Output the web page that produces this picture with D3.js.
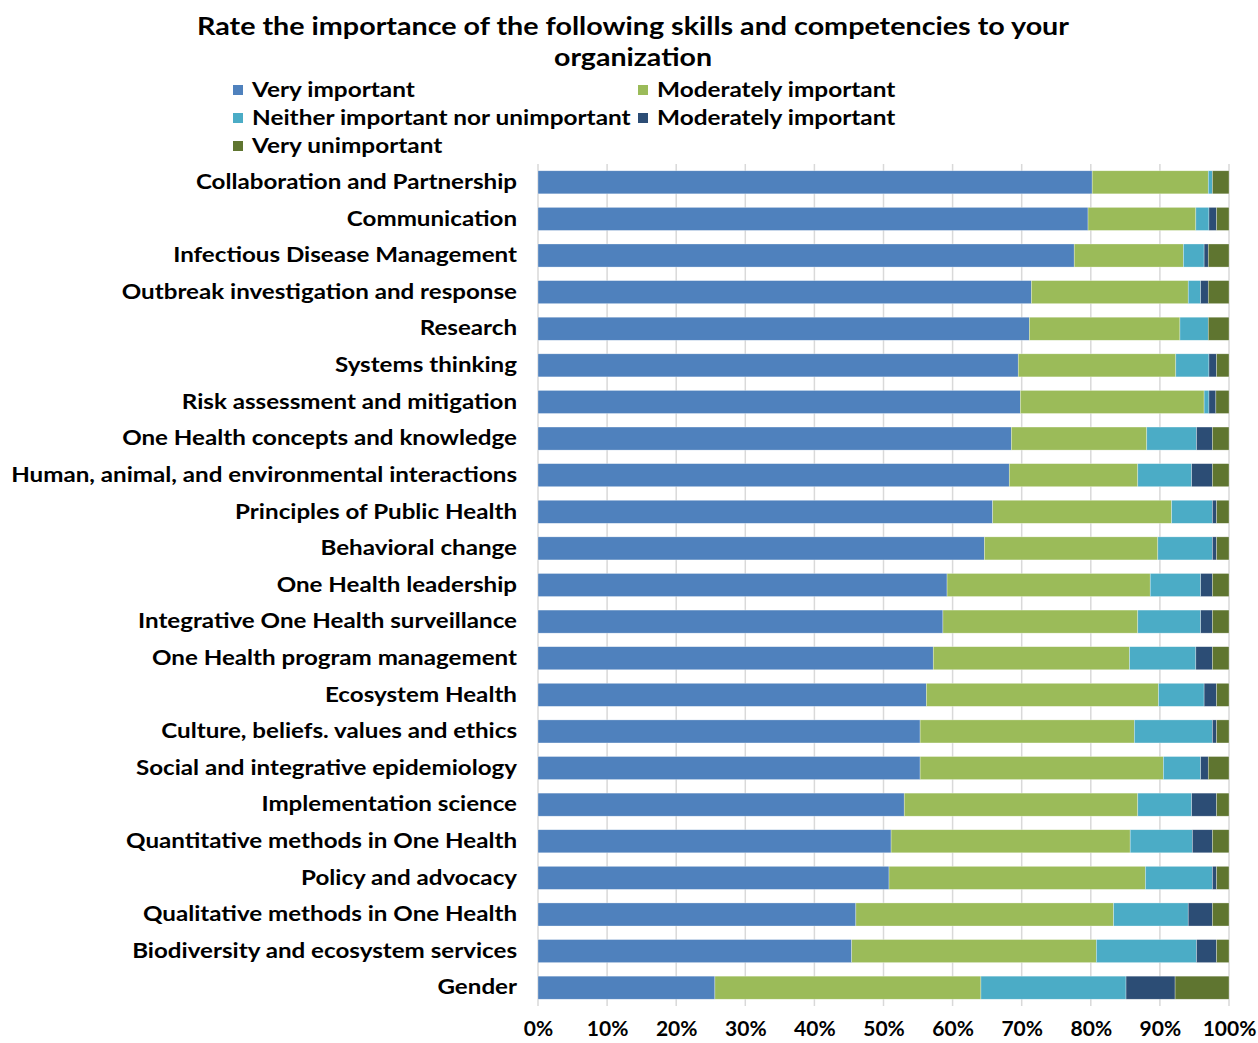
<!DOCTYPE html>
<html>
<head>
<meta charset="utf-8">
<script src="https://cdn.jsdelivr.net/npm/d3@7"></script>
<style>
  body { margin: 0; background: #fff; }
  text { font-family: Lato, "Noto Sans", sans-serif; font-weight: bold; fill: #000; }
</style>
</head>
<body>
<svg id="chart"></svg>
<script>
var width = 1258,
    height = 1043;

// skills, top to bottom
var skills = [
  "Collaboration and Partnership",
  "Communication",
  "Infectious Disease Management",
  "Outbreak investigation and response",
  "Research",
  "Systems thinking",
  "Risk assessment and mitigation",
  "One Health concepts and knowledge",
  "Human, animal, and environmental interactions",
  "Principles of Public Health",
  "Behavioral change",
  "One Health leadership",
  "Integrative One Health surveillance",
  "One Health program management",
  "Ecosystem Health",
  "Culture, beliefs. values and ethics",
  "Social and integrative epidemiology",
  "Implementation science",
  "Quantitative methods in One Health",
  "Policy and advocacy",
  "Qualitative methods in One Health",
  "Biodiversity and ecosystem services",
  "Gender"
];

var seriesNames = [
  "Very important",
  "Moderately important",
  "Neither important nor unimportant",
  "Moderately important",
  "Very unimportant"
];

// percentages per series, same order as skills
var veryImportant = [80.2, 79.6, 77.6, 71.4, 71.1, 69.5, 69.8, 68.5, 68.2, 65.8, 64.6, 59.2, 58.6, 57.2, 56.2, 55.3, 55.3, 53.0, 51.1, 50.8, 46.0, 45.4, 25.6];
var moderatelyImportant = [16.8, 15.6, 15.8, 22.7, 21.8, 22.8, 26.6, 19.6, 18.6, 25.9, 25.1, 29.4, 28.2, 28.4, 33.6, 31.0, 35.2, 33.8, 34.6, 37.1, 37.3, 35.4, 38.5];
var neither = [0.6, 1.9, 3.0, 1.8, 4.1, 4.8, 0.7, 7.2, 7.8, 5.9, 7.9, 7.3, 9.1, 9.6, 6.6, 11.3, 5.4, 7.8, 9.0, 9.7, 10.8, 14.5, 21.0];
var moderatelyUnimportant = [0, 1.1, 0.6, 1.1, 0, 1.1, 1.0, 2.3, 3.0, 0.6, 0.6, 1.7, 1.7, 2.4, 1.8, 0.6, 1.1, 3.6, 2.9, 0.6, 3.5, 2.9, 7.1];
var veryUnimportant = [2.4, 1.8, 3.0, 3.0, 3.0, 1.8, 1.9, 2.4, 2.4, 1.8, 1.8, 2.4, 2.4, 2.4, 1.8, 1.8, 3.0, 1.8, 2.4, 1.8, 2.4, 1.8, 7.8];

var tickValues = [0, 0.1, 0.2, 0.3, 0.4, 0.5, 0.6, 0.7, 0.8, 0.9, 1];

var colors = ["#4F81BD", "#9BBB59", "#4BACC6", "#2C4D75", "#5F7530"];

var seriesValues = [veryImportant, moderatelyImportant, neither, moderatelyUnimportant, veryUnimportant];
var keys = ["s0", "s1", "s2", "s3", "s4"];

var rows = skills.map((s, i) => {
  var r = { skill: s };
  var total = d3.sum(seriesValues, v => v[i]);
  keys.forEach((k, j) => { r[k] = seriesValues[j][i] / total; });
  return r;
});

var stacked = d3.stack().keys(keys)(rows);

var margin = { left: 538, right: 29, top: 164, bottom: 37 };

var x = d3.scaleLinear()
          .domain([0, 1])
          .range([margin.left, width - margin.right]);

var y = d3.scaleBand()
          .domain(skills)
          .range([margin.top, height - margin.bottom])
          .paddingInner(0.37)
          .paddingOuter(0.185);

// widen the glyphs a bit, the original font runs wider than Lato
var stretch = (sel, k) => {
  sel.each(function() {
    var len = this.getComputedTextLength();
    d3.select(this)
      .attr('textLength', len * k)
      .attr('lengthAdjust', 'spacingAndGlyphs');
  });
};

var svg = d3.select('#chart')
            .attr('width', width)
            .attr('height', height);

// title
var title = svg.append('g').attr('class', 'title');
title.append('text')
     .attr('x', 633).attr('y', 35)
     .attr('text-anchor', 'middle')
     .style('font-size', '25px')
     .attr('textLength', 872)
     .attr('lengthAdjust', 'spacingAndGlyphs')
     .text("Rate the importance of the following skills and competencies to your");
title.append('text')
     .attr('x', 633).attr('y', 66)
     .attr('text-anchor', 'middle')
     .style('font-size', '25px')
     .attr('textLength', 158)
     .attr('lengthAdjust', 'spacingAndGlyphs')
     .text("organization");

// gridlines
svg.append('g')
   .attr('class', 'grid')
   .selectAll('line')
   .data(tickValues)
   .join('line')
   .attr('x1', d => x(d))
   .attr('x2', d => x(d))
   .attr('y1', margin.top)
   .attr('y2', height - margin.bottom)
   .attr('stroke', '#D9D9D9')
   .attr('stroke-width', 1.5);

// bars
svg.append('g')
   .selectAll('g')
   .data(stacked)
   .join('g')
   .attr('fill', (d, i) => colors[i])
   .selectAll('rect')
   .data(d => d)
   .join('rect')
   .attr('x', d => x(d[0]))
   .attr('y', d => y(d.data.skill))
   .attr('width', d => x(d[1]) - x(d[0]))
   .attr('height', y.bandwidth())
   .attr('stroke', '#ffffff')
   .attr('stroke-opacity', 0.5)
   .attr('stroke-width', 0.6);

// y labels
var yAxis = svg.append('g')
   .attr('transform', `translate(${margin.left},0)`)
   .call(d3.axisLeft(y).tickSize(0).tickPadding(21));
yAxis.select('.domain').remove();
yAxis.selectAll('text')
     .style('font-size', '21px')
     .style('font-family', 'Lato, "Noto Sans", sans-serif')
     .attr('fill', '#000')
     .call(stretch, 1.15);

// x axis
var xAxis = svg.append('g')
   .attr('transform', `translate(0,${height - margin.bottom})`)
   .call(d3.axisBottom(x).tickValues(tickValues).tickFormat(d3.format('.0%')).tickSize(0).tickPadding(15));
xAxis.select('.domain').remove();
xAxis.selectAll('text')
     .style('font-size', '21px')
     .style('font-family', 'Lato, "Noto Sans", sans-serif')
     .attr('fill', '#000');

// legend
var legendPos = [[233, 90], [638, 90], [233, 118], [638, 118], [233, 146]];
var legend = svg.append('g')
                .attr('class', 'legend')
                .selectAll('g')
                .data(seriesNames)
                .join('g')
                .attr('transform', (d, i) => `translate(${legendPos[i][0]},${legendPos[i][1]})`);

legend.append('rect')
      .attr('x', 0)
      .attr('y', -5)
      .attr('width', 10)
      .attr('height', 10)
      .attr('fill', (d, i) => colors[i]);

legend.append('text')
      .attr('x', 19)
      .attr('y', 0)
      .attr('dy', '0.35em')
      .style('font-size', '21px')
      .text(d => d)
      .call(stretch, 1.16);
</script>
</body>
</html>
